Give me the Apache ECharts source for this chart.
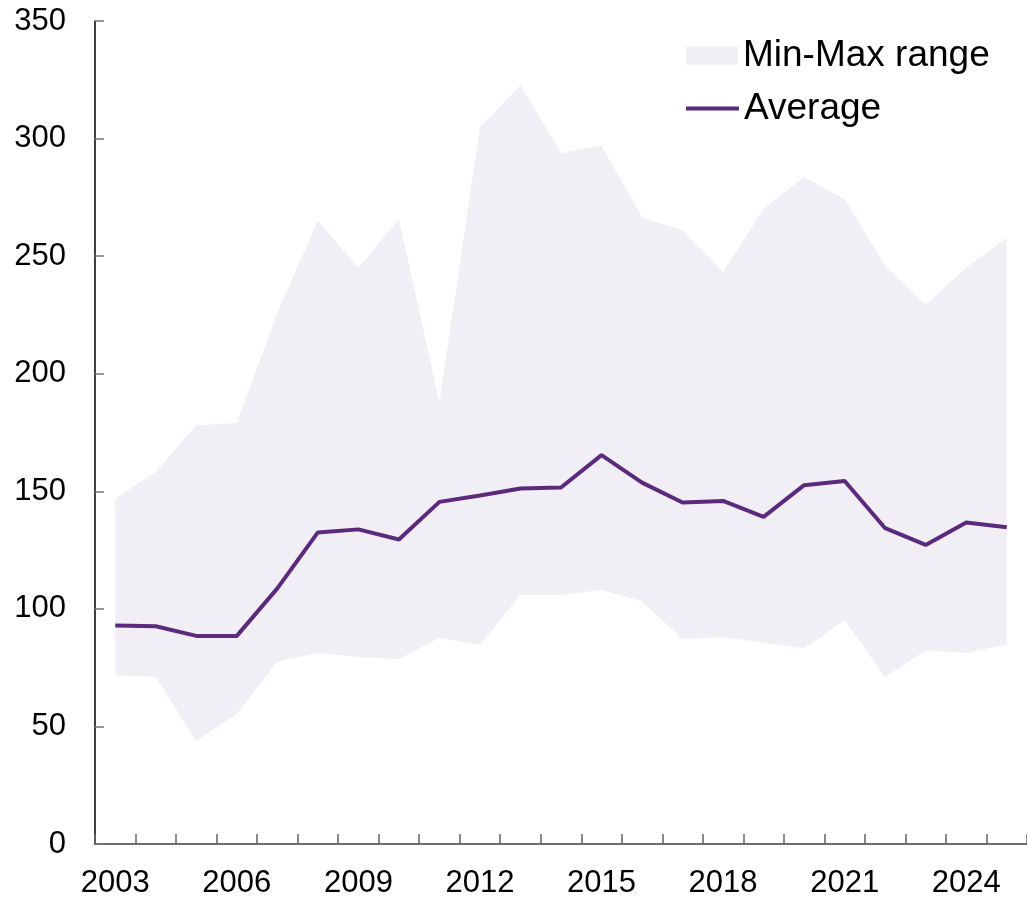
<!DOCTYPE html>
<html>
<head>
<meta charset="utf-8">
<script src="https://cdn.jsdelivr.net/npm/echarts@6/dist/echarts.min.js"></script>
<style>
  html, body { margin: 0; padding: 0; background: #ffffff; }
  #chart { width: 1027px; height: 899px; }
</style>
</head>
<body>
<div id="chart"></div>
<script>
// Yearly series: lower and upper envelope plus the average
const years = ['2003','2004','2005','2006','2007','2008','2009','2010','2011','2012','2013',
  '2014','2015','2016','2017','2018','2019','2020','2021','2022','2023','2024','2025'];
const minValues = [71.7, 71.0, 43.8, 55.4, 77.6, 81.3, 79.5, 78.7, 87.7, 84.7, 106.0,
  106.0, 108.0, 103.2, 87.2, 87.9, 85.7, 83.3, 95.0, 71.0, 82.3, 81.2, 84.8];
const maxValues = [146.9, 158.2, 178.1, 179.0, 225.8, 265.1, 245.0, 265.8, 187.9, 304.6, 322.7,
  293.8, 297.0, 266.4, 260.9, 243.1, 270.1, 283.7, 274.2, 245.9, 229.2, 245.1, 257.9];
const avgValues = [92.9, 92.6, 88.5, 88.5, 108.7, 132.5, 133.8, 129.5, 145.5, 148.2, 151.2,
  151.6, 165.4, 153.7, 145.2, 145.9, 139.1, 152.6, 154.4, 134.3, 127.2, 136.7, 134.7];
const yTicks = { min: 0, max: 350, step: 50 };

// band thickness stacked on top of the lower envelope
const bandSpan = maxValues.map((v, i) => +(v - minValues[i]).toFixed(1));

const FONT = '"Liberation Sans", Arial, sans-serif';
const LINE_COLOR = '#5b2a7c';
const BAND_COLOR = '#f2eef5';

const legendText = { fontFamily: FONT, fontSize: 37, color: '#000000', lineHeight: 37 };

const chart = echarts.init(document.getElementById('chart'), null, { renderer: 'canvas' });
chart.setOption({
  animation: false,
  backgroundColor: '#ffffff',
  grid: { left: 95, top: 21, width: 935, height: 825, containLabel: false },
  legend: [
    {
      // filled swatch for the envelope
      left: 686,
      top: 37,
      itemWidth: 52,
      itemHeight: 18,
      itemGap: 0,
      padding: 0,
      selectedMode: false,
      textStyle: legendText,
      data: [{ name: 'Min-Max range', icon: 'rect' }]
    },
    {
      // plain stroke for the average line
      left: 686,
      top: 90,
      itemWidth: 53,
      itemHeight: 4,
      itemGap: 0,
      padding: 0,
      selectedMode: false,
      textStyle: legendText,
      data: [{ name: 'Average', icon: 'rect', itemStyle: { color: LINE_COLOR } }]
    }
  ],
  xAxis: {
    type: 'category',
    data: years,
    boundaryGap: true,
    axisLine: { lineStyle: { color: '#404040', width: 1.5 } },
    axisTick: { show: true, inside: true, length: 10, interval: 0, lineStyle: { color: '#666666', width: 1.5 } },
    axisLabel: { interval: 2, margin: 24, fontFamily: FONT, fontSize: 31, color: '#000000' },
    splitLine: { show: false }
  },
  yAxis: {
    type: 'value',
    min: yTicks.min,
    max: yTicks.max,
    interval: yTicks.step,
    axisLine: { show: true, lineStyle: { color: '#000000', width: 1.5 } },
    axisTick: { show: true, inside: true, length: 9, lineStyle: { color: '#777777', width: 1.5 } },
    axisLabel: { margin: 29, fontFamily: FONT, fontSize: 31, color: '#000000' },
    splitLine: { show: false }
  },
  series: [
    {
      name: 'lower',
      type: 'line',
      data: minValues,
      stack: 'band',
      symbol: 'none',
      silent: true,
      lineStyle: { opacity: 0 },
      z: 1
    },
    {
      name: 'Min-Max range',
      type: 'line',
      data: bandSpan,
      stack: 'band',
      symbol: 'none',
      silent: true,
      itemStyle: { color: BAND_COLOR },
      lineStyle: { opacity: 0, width: 0 },
      areaStyle: { color: BAND_COLOR, opacity: 1 },
      z: 1
    },
    {
      name: 'Average',
      type: 'line',
      data: avgValues,
      symbol: 'none',
      itemStyle: { color: LINE_COLOR },
      lineStyle: { color: LINE_COLOR, width: 4 },
      z: 3
    }
  ]
});
</script>
</body>
</html>
